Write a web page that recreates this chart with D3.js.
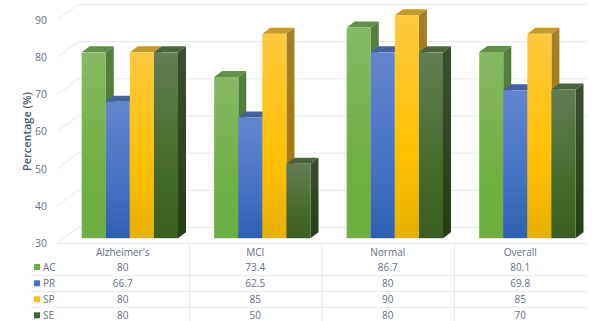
<!DOCTYPE html>
<html>
<head>
<meta charset="utf-8">
<script src="https://cdnjs.cloudflare.com/ajax/libs/d3/7.8.5/d3.min.js"></script>
<style>
  body { margin: 0; background: #fff; }
  text { font-family: "Open Sans", sans-serif; fill: #5d6880; }
</style>
</head>
<body>
<div id="chart"></div>
<script>
// values
const categories = ["Alzheimer's", "MCI", "Normal", "Overall"];
const seriesNames = ["AC", "PR", "SP", "SE"];
const ac = [80, 73.4, 86.7, 80.1];
const pr = [66.7, 62.5, 80, 69.8];
const sp = [80, 85, 90, 85];
const se = [80, 50, 80, 70];
const yTicks = [30, 40, 50, 60, 70, 80, 90];

const allSeries = [ac, pr, sp, se];

// front / top / side colours for each series
const skins = [
  {stops: ["#86b964", "#6fb043", "#6cae3f"], top: "#638f4b", side: ["#557f3e", "#4a7a2c"], key: "#70ad47"},
  {stops: ["#6385cf", "#4472c4", "#2f5fb2"], top: "#47619c", side: ["#47619c", "#2c4a80"], key: "#4472c4"},
  {stops: ["#ffc93f", "#ffc000", "#e6b000"], top: "#c39a30", side: ["#a67f28", "#a07800"], key: "#ffc000"},
  {stops: ["#627d54", "#456b2a", "#3a5f22"], top: "#4c6340", side: ["#3b4f30", "#263f14"], key: "#43682b"}
];

const depthX = 8, depthY = 6;
const gridColor = "#e7e9ef";
const labelSize = "10px";

const svg = d3.select("#chart")
    .append("svg")
    .attr("width", 598)
    .attr("height", 321)
    .style("display", "block");

const defs = svg.append("defs");
skins.forEach((s, i) => {
  const grad = defs.append("linearGradient")
      .attr("id", "front" + i)
      .attr("x1", 0).attr("x2", 0).attr("y1", 0).attr("y2", 1);
  grad.append("stop").attr("offset", "0%").attr("stop-color", s.stops[0]);
  grad.append("stop").attr("offset", "62%").attr("stop-color", s.stops[1]);
  grad.append("stop").attr("offset", "100%").attr("stop-color", s.stops[2]);
  const sideGrad = defs.append("linearGradient")
      .attr("id", "side" + i)
      .attr("x1", 0).attr("x2", 0).attr("y1", 0).attr("y2", 1);
  sideGrad.append("stop").attr("offset", "0%").attr("stop-color", s.side[0]);
  sideGrad.append("stop").attr("offset", "100%").attr("stop-color", s.side[1]);
});

// the three planes of the fake 3d box
const yAxisScale = d3.scaleLinear().domain([30, 90]).range([243, 20]);
const yWall = d3.scaleLinear().domain([30, 90]).range([227.5, 4.5]);
const yBar = d3.scaleLinear().domain([30, 90]).range([238.2, 15.2]);

const xCat = d3.scaleBand().domain(categories).range([57, 587]);
const xSeries = d3.scaleBand().domain(seriesNames).range([24.7, 121]);

// grid on wall and side wall
yTicks.forEach(t => {
  svg.append("path")
      .attr("fill", "none")
      .attr("stroke", gridColor)
      .attr("d", d3.line()([[57.5, yAxisScale(t)], [78, yWall(t)], [587, yWall(t)]]));
});

// tick labels
const axis = svg.append("g")
    .attr("transform", "translate(47,0)")
    .call(d3.axisLeft(yAxisScale).tickValues(yTicks).tickSize(0).tickPadding(0));
axis.select(".domain").remove();
axis.selectAll("text")
    .style("font-family", '"Open Sans", sans-serif')
    .style("font-size", "10.5px")
    .style("fill", "#667087");

svg.append("text")
    .attr("transform", "translate(30.5,131.5) rotate(-90)")
    .attr("text-anchor", "middle")
    .style("font-size", "11px")
    .style("font-weight", "600")
    .style("fill", "#44546a")
    .text("Percentage (%)");

// bars, left to right so every bar covers its neighbour's side
categories.forEach((cat, c) => {
  seriesNames.forEach((name, s) => {
    const v = allSeries[s][c];
    const x0 = xCat(cat) + xSeries(name);
    const x1 = x0 + xSeries.bandwidth();
    const yt = yBar(v), yb = yBar(30);
    const bar = svg.append("g").attr("class", "bar");
    bar.append("path")
        .attr("fill", skins[s].top)
        .attr("d", d3.line()([[x0, yt], [x0 + depthX, yt - depthY], [x1 + depthX, yt - depthY], [x1, yt]]) + "Z");
    bar.append("path")
        .attr("fill", `url(#side${s})`)
        .attr("d", d3.line()([[x1, yt], [x1 + depthX, yt - depthY], [x1 + depthX, yb - depthY], [x1, yb]]) + "Z");
    bar.append("rect")
        .attr("x", x0).attr("y", yt)
        .attr("width", x1 - x0).attr("height", yb - yt)
        .attr("fill", `url(#front${s})`);
  });
});

// data table under the chart
const rowLines = [275.7, 291.4, 307.3];
const rowText = [267, 283.3, 299.3, 315.3];

svg.append("line").attr("x1", 57).attr("x2", 587).attr("y1", 243.5).attr("y2", 243.5)
    .attr("stroke", gridColor);
rowLines.forEach(y => {
  svg.append("line").attr("x1", 31).attr("x2", 587).attr("y1", y).attr("y2", y)
      .attr("stroke", gridColor);
});
categories.slice(1).forEach(cat => {
  svg.append("line").attr("x1", xCat(cat)).attr("x2", xCat(cat)).attr("y1", 243).attr("y2", 321)
      .attr("stroke", gridColor);
});

const tableText = (x, y, str, anchor) => svg.append("text")
    .attr("x", x).attr("y", y)
    .attr("dy", "0.35em")
    .attr("text-anchor", anchor)
    .style("font-size", labelSize)
    .style("fill", "#667087")
    .text(str);

categories.forEach((cat, c) => {
  const cx = xCat(cat) + xCat.bandwidth() / 2 - 0.5;
  tableText(cx, 252.7, cat, "middle");
  allSeries.forEach((vals, s) => tableText(cx, rowText[s], vals[c], "middle"));
});

seriesNames.forEach((name, s) => {
  svg.append("rect")
      .attr("x", 34).attr("y", rowText[s] - 3)
      .attr("width", 6).attr("height", 6)
      .attr("fill", skins[s].key);
  tableText(43, rowText[s], name, "start");
});
</script>
</body>
</html>
